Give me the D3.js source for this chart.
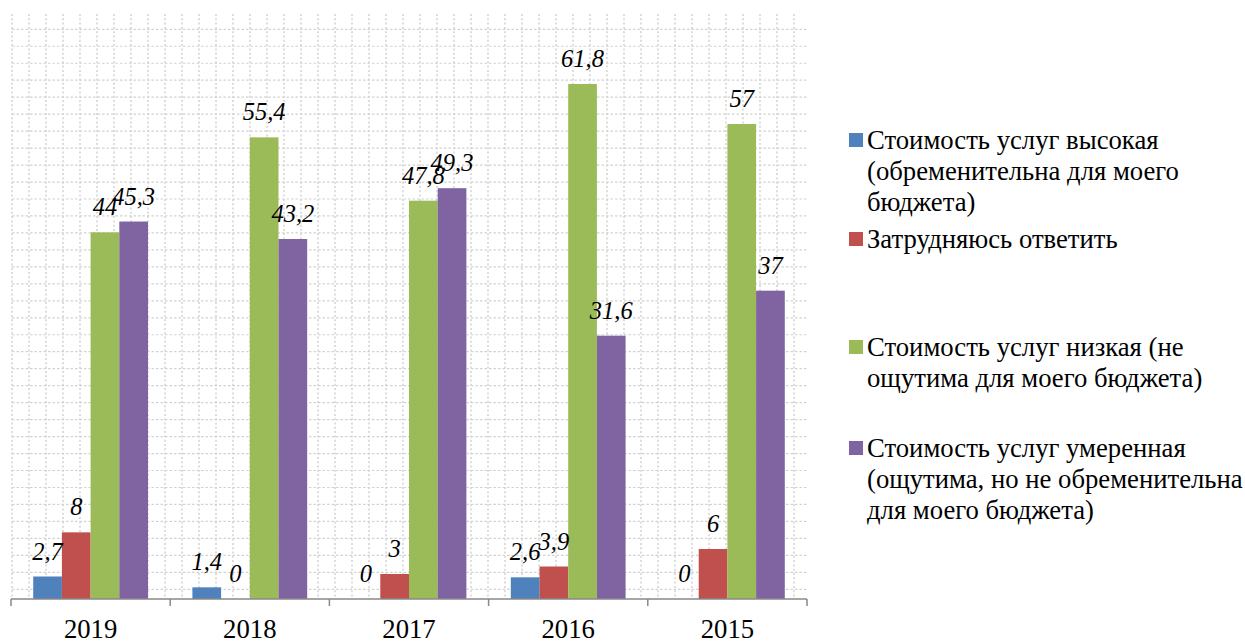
<!DOCTYPE html>
<html><head><meta charset="utf-8">
<script src="https://cdn.jsdelivr.net/npm/d3@7"></script>
</head><body>
<script>
const years = ["2019","2018","2017","2016","2015"];
const seriesNames = [
  "Стоимость услуг высокая (обременительна для моего бюджета)",
  "Затрудняюсь ответить",
  "Стоимость услуг низкая (не ощутима для моего бюджета)",
  "Стоимость услуг умеренная (ощутима, но не обременительна для моего бюджета)"
];
const high = [2.7, 1.4, 0, 2.6, 0];
const unsure = [8, 0, 3, 3.9, 6];
const low = [44, 55.4, 47.8, 61.8, 57];
const moderate = [45.3, 43.2, 49.3, 31.6, 37];
const colors = ["#4F81BD", "#C0504D", "#9BBB59", "#8064A2"];
const legendLines = [
  ["Стоимость услуг высокая", "(обременительна для моего", "бюджета)"],
  ["Затрудняюсь ответить"],
  ["Стоимость услуг низкая (не", "ощутима для моего бюджета)"],
  ["Стоимость услуг умеренная", "(ощутима, но не обременительна", "для моего бюджета)"]
];
const series = [high, unsure, low, moderate];
const FONT = '"Liberation Serif"';

d3.select("body").style("margin", "0px");
const W = 1245, H = 642;
const svg = d3.select("body").append("svg").attr("width", W).attr("height", H)
  .style("display", "block");

const left = 11, right = 807, base = 599;
const x0 = d3.scaleBand().domain(years).range([left, right]).paddingInner(0).paddingOuter(0);
const x1 = d3.scaleBand().domain(d3.range(4)).range([0, x0.bandwidth()]).paddingInner(0).paddingOuter(0.774);
const y = d3.scaleLinear().domain([0, 70]).range([base, base - 70 * 8.333]);

// background grid
const gx = d3.scaleLinear().domain([0, 46]).range([12, 794]);
const gy = d3.scaleLinear().domain([0, 33]).range([589.3, 29.3]);
const grid = svg.append("g").attr("stroke", "#d2d2d2");
grid.selectAll("line.h").data(d3.range(34)).join("line").attr("class","h")
  .attr("x1", 12).attr("x2", right).attr("y1", d => gy(d)).attr("y2", d => gy(d))
  .attr("stroke-width", 1.2).attr("stroke-dasharray", "2.5,2");
grid.selectAll("line.v").data(d3.range(47)).join("line").attr("class","v")
  .attr("x1", d => gx(d)).attr("x2", d => gx(d)).attr("y1", 14).attr("y2", base)
  .attr("stroke-width", 1.5).attr("stroke-dasharray", "2,2.3");

// bars
const groups = svg.append("g").selectAll("g").data(years).join("g")
  .attr("transform", d => `translate(${x0(d)},0)`);
groups.selectAll("rect").data((d, i) => series.map((s, k) => ({k, v: s[i]}))).join("rect")
  .attr("x", d => x1(d.k)).attr("width", x1.bandwidth())
  .attr("y", d => y(d.v)).attr("height", d => base - y(d.v))
  .attr("fill", d => colors[d.k]);

// data labels
groups.selectAll("text").data((d, i) => series.map((s, k) => ({k, v: s[i]}))).join("text")
  .attr("x", d => x1(d.k) + x1.bandwidth() / 2)
  .attr("y", d => y(d.v) - 17)
  .attr("text-anchor", "middle")
  .attr("font-family", FONT).style("font-family", FONT)
  .attr("font-style", "italic").attr("font-size", 24.5).attr("fill", "#000")
  .text(d => String(d.v).replace(".", ","));

// axis
const axis = d3.axisBottom(x0).tickSize(0).tickPadding(0).tickFormat(d => d);
const ag = svg.append("g").attr("transform", `translate(0,${base})`).call(axis);
ag.select(".domain").remove();
ag.attr("font-family", FONT).attr("font-size", 26.7);
ag.append("line").attr("x1", left).attr("x2", right).attr("y1", 0).attr("y2", 0)
  .attr("stroke", "#898989").attr("stroke-width", 1.5);
ag.selectAll("line.tk").data(d3.range(years.length + 1)).join("line").attr("class","tk")
  .attr("x1", d => left + d * x0.step()).attr("x2", d => left + d * x0.step())
  .attr("y1", 0).attr("y2", 7).attr("stroke", "#898989").attr("stroke-width", 1.5);
ag.selectAll(".tick text").attr("y", 39).attr("dy", null).attr("fill", "#000")
  .attr("font-family", FONT).style("font-family", FONT).attr("font-size", 26.7);

// legend
const legendBase = [149, 248, 356, 457];
const lg = svg.append("g");
legendLines.forEach((lines, k) => {
  lg.append("rect").attr("x", 849).attr("y", legendBase[k] - 16).attr("width", 14).attr("height", 14)
    .attr("fill", colors[k]);
  lines.forEach((ln, j) => lg.append("text").attr("x", 867).attr("y", legendBase[k] + j * 31)
    .attr("font-family", FONT).style("font-family", FONT)
    .attr("font-size", 26.7).attr("fill", "#000").text(ln));
});
</script>
</body></html>
